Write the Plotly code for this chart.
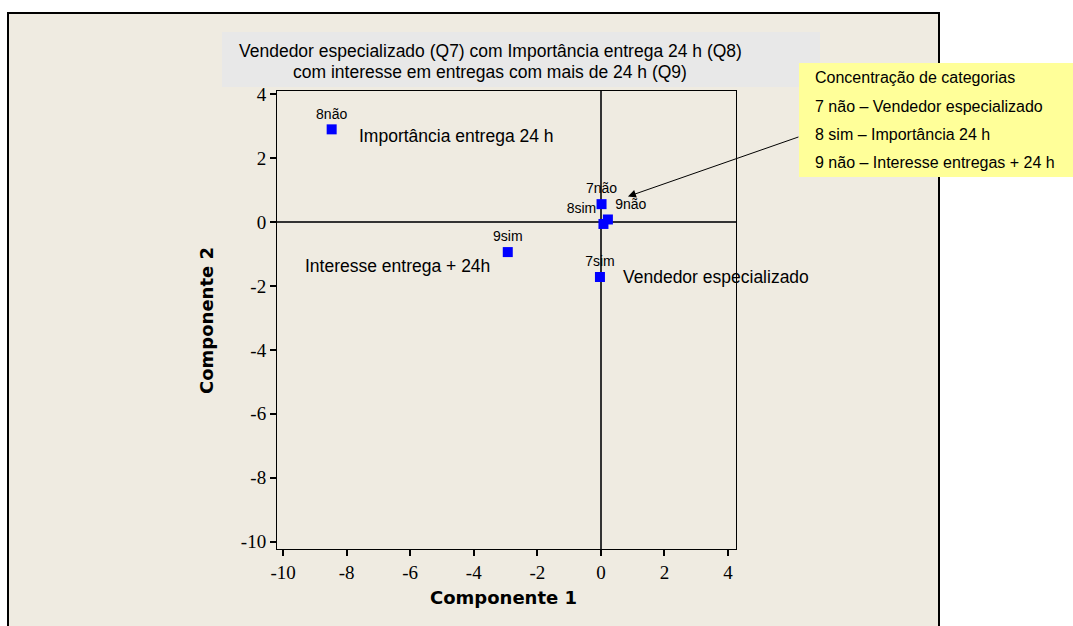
import plotly.graph_objects as go

# Category coordinates on the two principal components
categorias = ["8não", "9sim", "7sim", "7não", "8sim", "9não"]
componente_1 = [-8.47, -2.93, -0.03, 0.02, 0.08, 0.22]
componente_2 = [2.90, -0.94, -1.72, 0.56, -0.06, 0.08]
posicao_rotulo = ["top center", "top center", "top center", "top center",
                  "top left", "top right"]

x_ticks = [-10, -8, -6, -4, -2, 0, 2, 4]
y_ticks = [-10, -8, -6, -4, -2, 0, 2, 4]
x_tick_text = ["-10", "-8", "-6", "-4", "-2", "0", "2", "4"]
y_tick_text = ["-10", "-8", "-6", "-4", "-2", "0", "2", "4"]

titulo = ["Vendedor especializado (Q7) com Importância entrega 24 h (Q8)",
          "com interesse em entregas com mais de 24 h (Q9)"]
nota = ["Concentração de categorias",
        "7 não – Vendedor especializado",
        "8 sim – Importância 24 h",
        "9 não – Interesse entregas + 24 h"]

# group labels placed inside the plot (text, x, y, anchor)
grupos = [("Importância entrega 24 h", -7.67, 2.70, "left"),
          ("Interesse entrega + 24h", -3.43, -1.36, "right"),
          ("Vendedor especializado", 0.62, -1.71, "left")]

W, H = 1073, 626
L, R, T, B = 277, 736, 91, 549

fig = go.Figure()
fig.add_trace(go.Scatter(
    x=componente_1, y=componente_2, mode="markers+text",
    text=categorias, textposition=posicao_rotulo,
    textfont=dict(family="Liberation Sans", size=14, color="black"),
    marker=dict(symbol="square", size=10, color="#0000FF"),
    cliponaxis=False, showlegend=False, hoverinfo="skip"))

axis_common = dict(
    showgrid=False, zeroline=True, zerolinecolor="#333333", zerolinewidth=2,
    showline=True, linecolor="black", linewidth=1, mirror=True,
    ticks="outside", ticklen=6, tickwidth=2, tickcolor="black",
    tickfont=dict(family="Liberation Serif", size=19, color="black"),
)

fig.update_layout(
    width=W, height=H,
    margin=dict(l=L, r=W - R, t=T, b=H - B),
    paper_bgcolor="white", plot_bgcolor="white",
    xaxis=dict(range=[-10.19, 4.25], tickvals=x_ticks, ticktext=x_tick_text,
               **axis_common),
    yaxis=dict(range=[-10.23, 4.10], tickvals=y_ticks, ticktext=y_tick_text,
               **axis_common),
)

def px(xp):
    return (xp - L) / (R - L)

def py(yp):
    return (B - yp) / (B - T)

shapes = [
    # outer panel
    dict(type="rect", xref="paper", yref="paper", layer="below",
         x0=px(8), x1=px(939), y0=py(640), y1=py(13),
         fillcolor="#EFEBE1", line=dict(color="black", width=2)),
    # title box
    dict(type="rect", xref="paper", yref="paper", layer="below",
         x0=px(222), x1=px(820), y0=py(87), y1=py(32),
         fillcolor="#E8E8E8", line=dict(width=0)),
    # note box
    dict(type="rect", xref="paper", yref="paper", layer="above",
         x0=px(799), x1=px(1080), y0=py(177), y1=py(63),
         fillcolor="#FFFF99", line=dict(width=0)),
]
fig.update_layout(shapes=shapes)

ann = []
for linha, yp in zip(titulo, [51, 72]):
    ann.append(dict(xref="paper", yref="paper", x=px(490), y=py(yp),
                    text=linha, showarrow=False, xanchor="center", yanchor="middle",
                    font=dict(family="Liberation Sans", size=17.5, color="black")))
for linha, yp in zip(nota, [77, 106, 134, 162]):
    ann.append(dict(xref="paper", yref="paper", x=px(813), y=py(yp),
                    text=linha, showarrow=False, xanchor="left", yanchor="middle",
                    font=dict(family="Liberation Sans", size=16, color="black")))
for txt, gx, gy, anc in grupos:
    ann.append(dict(x=gx, y=gy, text=txt, showarrow=False, xanchor=anc,
                    yanchor="middle",
                    font=dict(family="Liberation Sans", size=17.5, color="black")))
# arrow from the note box to the cluster near the origin
ann.append(dict(x=0.85, y=0.80, ax=172, ay=-60, text="", showarrow=True,
                arrowhead=2, arrowsize=1.6, arrowwidth=1, arrowcolor="black"))
# axis titles
ann.append(dict(xref="paper", yref="paper", x=px(503), y=py(597),
                text="<b>Componente 1</b>", showarrow=False,
                xanchor="center", yanchor="middle",
                font=dict(family="DejaVu Sans", size=18, color="black")))
ann.append(dict(xref="paper", yref="paper", x=px(206), y=py(321),
                text="<b>Componente 2</b>", showarrow=False, textangle=-90,
                xanchor="center", yanchor="middle",
                font=dict(family="DejaVu Sans", size=18, color="black")))
fig.update_layout(annotations=ann)

fig.write_html("out.html")
